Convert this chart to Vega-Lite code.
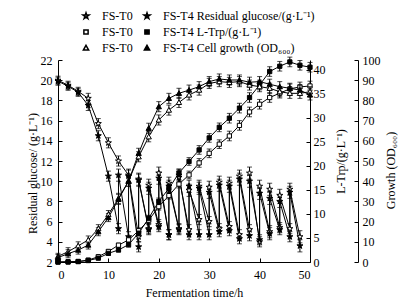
{
  "$schema": "https://vega.github.io/schema/vega-lite/v6.json",
  "width": 252,
  "height": 202,
  "autosize": "none",
  "padding": {"left": 58, "top": 60, "right": 100, "bottom": 44},
  "background": "white",
  "config": {
    "font": "Liberation Serif",
    "view": {"stroke": null},
    "axis": {"grid": false, "domainColor": "black", "tickColor": "black", "labelColor": "black", "titleColor": "black", "labelFontSize": 12, "titleFontSize": 12, "titleFontWeight": "normal", "tickSize": -4, "domainWidth": 1, "tickWidth": 1, "labelFont": "Liberation Serif", "titleFont": "Liberation Serif"},
    "legend": {"orient": "none", "legendX": 14, "legendY": -50, "columns": 2, "direction": "horizontal", "labelFontSize": 12, "labelFont": "Liberation Serif", "labelColor": "black", "symbolSize": 49, "symbolOffset": 8, "labelOffset": 10, "columnPadding": -1, "rowPadding": 4}
  },
  "data": {"values": [
    {"k":"g0","t":0,"v":20.0,"e":0.4,"o":1},{"k":"g0","t":2,"v":19.5,"e":0.4,"o":2},{"k":"g0","t":4,"v":18.9,"e":0.4,"o":3},{"k":"g0","t":6,"v":18.2,"e":0.5,"o":4},{"k":"g0","t":8,"v":15.7,"e":0.5,"o":5},{"k":"g0","t":10,"v":13.8,"e":0.5,"o":6},{"k":"g0","t":12,"v":12.0,"e":0.5,"o":7},{"k":"g0","t":14,"v":10.6,"e":0.6,"o":8},
    {"k":"g0","t":16,"v":4.5,"e":0.5,"o":9},{"k":"g0","t":16,"v":10.2,"e":0.6,"o":10},{"k":"g0","t":18,"v":5.3,"e":0.5,"o":11},{"k":"g0","t":18,"v":9.6,"e":0.6,"o":12},{"k":"g0","t":20,"v":5.7,"e":0.5,"o":13},{"k":"g0","t":20,"v":10.8,"e":0.6,"o":14},{"k":"g0","t":22,"v":4.7,"e":0.5,"o":15},{"k":"g0","t":22,"v":9.8,"e":0.6,"o":16},{"k":"g0","t":24,"v":5.3,"e":0.5,"o":17},{"k":"g0","t":24,"v":10.4,"e":0.6,"o":18},{"k":"g0","t":26,"v":5.2,"e":0.5,"o":19},{"k":"g0","t":26,"v":9.1,"e":0.6,"o":20},{"k":"g0","t":28,"v":6.2,"e":0.5,"o":21},{"k":"g0","t":28,"v":9.5,"e":0.6,"o":22},{"k":"g0","t":30,"v":6.0,"e":0.5,"o":23},{"k":"g0","t":30,"v":9.4,"e":0.6,"o":24},{"k":"g0","t":32,"v":5.3,"e":0.5,"o":25},{"k":"g0","t":32,"v":9.9,"e":0.6,"o":26},{"k":"g0","t":34,"v":5.5,"e":0.5,"o":27},{"k":"g0","t":34,"v":9.8,"e":0.6,"o":28},{"k":"g0","t":36,"v":4.7,"e":0.5,"o":29},{"k":"g0","t":36,"v":10.5,"e":0.6,"o":30},{"k":"g0","t":38,"v":5.2,"e":0.5,"o":31},{"k":"g0","t":38,"v":10.8,"e":0.6,"o":32},{"k":"g0","t":40,"v":4.0,"e":0.5,"o":33},{"k":"g0","t":40,"v":9.5,"e":0.6,"o":34},{"k":"g0","t":42,"v":5.0,"e":0.6,"o":35},{"k":"g0","t":42,"v":9.2,"e":0.6,"o":36},{"k":"g0","t":44,"v":5.4,"e":0.5,"o":37},{"k":"g0","t":44,"v":8.6,"e":0.6,"o":38},{"k":"g0","t":46,"v":5.3,"e":0.5,"o":39},{"k":"g0","t":46,"v":9.2,"e":0.6,"o":40},{"k":"g0","t":48,"v":4.5,"e":0.6,"o":41},
    {"k":"g4","t":0,"v":19.9,"e":0.4,"o":1},{"k":"g4","t":2,"v":19.4,"e":0.4,"o":2},{"k":"g4","t":4,"v":18.8,"e":0.4,"o":3},{"k":"g4","t":6,"v":17.5,"e":0.5,"o":4},{"k":"g4","t":8,"v":14.5,"e":0.5,"o":5},{"k":"g4","t":10,"v":10.5,"e":0.5,"o":6},{"k":"g4","t":12,"v":5.3,"e":0.5,"o":7},{"k":"g4","t":12,"v":10.6,"e":0.6,"o":8},{"k":"g4","t":14,"v":4.5,"e":0.5,"o":9},{"k":"g4","t":14,"v":10.5,"e":0.6,"o":10},{"k":"g4","t":16,"v":3.5,"e":0.5,"o":11},{"k":"g4","t":16,"v":10.1,"e":0.6,"o":12},{"k":"g4","t":18,"v":5.2,"e":0.5,"o":13},{"k":"g4","t":18,"v":9.3,"e":0.6,"o":14},{"k":"g4","t":20,"v":5.5,"e":0.5,"o":15},{"k":"g4","t":20,"v":10.3,"e":0.6,"o":16},{"k":"g4","t":22,"v":4.7,"e":0.5,"o":17},{"k":"g4","t":22,"v":9.5,"e":0.6,"o":18},{"k":"g4","t":24,"v":5.2,"e":0.5,"o":19},{"k":"g4","t":24,"v":10.6,"e":0.6,"o":20},{"k":"g4","t":26,"v":4.7,"e":0.5,"o":21},{"k":"g4","t":26,"v":9.5,"e":0.6,"o":22},{"k":"g4","t":28,"v":4.7,"e":0.5,"o":23},{"k":"g4","t":28,"v":9.3,"e":0.6,"o":24},{"k":"g4","t":30,"v":4.7,"e":0.5,"o":25},{"k":"g4","t":30,"v":8.9,"e":0.6,"o":26},{"k":"g4","t":32,"v":5.0,"e":0.5,"o":27},{"k":"g4","t":32,"v":9.6,"e":0.6,"o":28},{"k":"g4","t":34,"v":5.1,"e":0.5,"o":29},{"k":"g4","t":34,"v":9.5,"e":0.6,"o":30},{"k":"g4","t":36,"v":4.3,"e":0.5,"o":31},{"k":"g4","t":36,"v":10.2,"e":0.6,"o":32},{"k":"g4","t":38,"v":4.6,"e":0.5,"o":33},{"k":"g4","t":38,"v":10.0,"e":0.6,"o":34},{"k":"g4","t":40,"v":4.2,"e":0.5,"o":35},{"k":"g4","t":40,"v":8.8,"e":0.6,"o":36},{"k":"g4","t":42,"v":4.8,"e":0.6,"o":37},{"k":"g4","t":42,"v":8.3,"e":0.6,"o":38},{"k":"g4","t":44,"v":5.2,"e":0.5,"o":39},{"k":"g4","t":44,"v":8.0,"e":0.6,"o":40},{"k":"g4","t":46,"v":4.5,"e":0.5,"o":41},{"k":"g4","t":46,"v":8.9,"e":0.6,"o":42},{"k":"g4","t":48,"v":3.6,"e":0.6,"o":43},
    {"k":"p0","t":0,"v":0,"e":0.1,"o":1},{"k":"p0","t":2,"v":0.05,"e":0.1,"o":2},{"k":"p0","t":4,"v":0.1,"e":0.1,"o":3},{"k":"p0","t":6,"v":0.4,"e":0.2,"o":4},{"k":"p0","t":8,"v":1.1,"e":0.3,"o":5},{"k":"p0","t":10,"v":2.2,"e":0.4,"o":6},{"k":"p0","t":12,"v":3.5,"e":0.4,"o":7},{"k":"p0","t":14,"v":4.6,"e":0.5,"o":8},{"k":"p0","t":16,"v":6.5,"e":0.6,"o":9},{"k":"p0","t":18,"v":8.7,"e":0.6,"o":10},{"k":"p0","t":20,"v":11.5,"e":0.7,"o":11},{"k":"p0","t":22,"v":13.8,"e":0.7,"o":12},{"k":"p0","t":24,"v":16.2,"e":0.8,"o":13},{"k":"p0","t":26,"v":18.1,"e":0.8,"o":14},{"k":"p0","t":28,"v":20.6,"e":0.9,"o":15},{"k":"p0","t":30,"v":22.6,"e":0.9,"o":16},{"k":"p0","t":32,"v":24.5,"e":0.9,"o":17},{"k":"p0","t":34,"v":26.2,"e":1.0,"o":18},{"k":"p0","t":36,"v":28.4,"e":1.0,"o":19},{"k":"p0","t":38,"v":31.2,"e":1.0,"o":20},{"k":"p0","t":40,"v":32.8,"e":1.0,"o":21},{"k":"p0","t":42,"v":34.2,"e":1.0,"o":22},{"k":"p0","t":44,"v":35.1,"e":1.0,"o":23},{"k":"p0","t":46,"v":36.0,"e":1.0,"o":24},{"k":"p0","t":48,"v":36.4,"e":1.0,"o":25},{"k":"p0","t":50,"v":36.6,"e":1.0,"o":26},
    {"k":"p4","t":0,"v":0,"e":0.1,"o":1},{"k":"p4","t":2,"v":0,"e":0.1,"o":2},{"k":"p4","t":4,"v":0.1,"e":0.1,"o":3},{"k":"p4","t":6,"v":0.3,"e":0.2,"o":4},{"k":"p4","t":8,"v":0.8,"e":0.3,"o":5},{"k":"p4","t":10,"v":1.8,"e":0.4,"o":6},{"k":"p4","t":12,"v":2.5,"e":0.4,"o":7},{"k":"p4","t":14,"v":3.6,"e":0.5,"o":8},{"k":"p4","t":16,"v":6.0,"e":0.6,"o":9},{"k":"p4","t":18,"v":9.1,"e":0.6,"o":10},{"k":"p4","t":20,"v":12.6,"e":0.7,"o":11},{"k":"p4","t":22,"v":15.3,"e":0.7,"o":12},{"k":"p4","t":24,"v":18.5,"e":0.8,"o":13},{"k":"p4","t":26,"v":20.9,"e":0.8,"o":14},{"k":"p4","t":28,"v":23.3,"e":0.9,"o":15},{"k":"p4","t":30,"v":25.8,"e":0.9,"o":16},{"k":"p4","t":32,"v":28.0,"e":0.9,"o":17},{"k":"p4","t":34,"v":29.9,"e":1.0,"o":18},{"k":"p4","t":36,"v":32.0,"e":1.0,"o":19},{"k":"p4","t":38,"v":34.2,"e":1.0,"o":20},{"k":"p4","t":40,"v":36.8,"e":1.0,"o":21},{"k":"p4","t":42,"v":39.6,"e":1.0,"o":22},{"k":"p4","t":44,"v":40.7,"e":1.0,"o":23},{"k":"p4","t":46,"v":41.6,"e":1.0,"o":24},{"k":"p4","t":48,"v":40.9,"e":1.0,"o":25},{"k":"p4","t":50,"v":40.5,"e":1.0,"o":26},
    {"k":"c0","t":0,"v":2.8,"e":1.5,"o":1},{"k":"c0","t":2,"v":5.1,"e":2,"o":2},{"k":"c0","t":4,"v":8.0,"e":2,"o":3},{"k":"c0","t":6,"v":10.9,"e":2,"o":4},{"k":"c0","t":8,"v":16.5,"e":2,"o":5},{"k":"c0","t":10,"v":23.5,"e":2,"o":6},{"k":"c0","t":12,"v":31.5,"e":2.5,"o":7},{"k":"c0","t":14,"v":40,"e":2.5,"o":8},{"k":"c0","t":16,"v":52.1,"e":2.5,"o":9},{"k":"c0","t":18,"v":62,"e":2.5,"o":10},{"k":"c0","t":20,"v":70.3,"e":2.5,"o":11},{"k":"c0","t":22,"v":75.2,"e":2.5,"o":12},{"k":"c0","t":24,"v":79,"e":2.5,"o":13},{"k":"c0","t":26,"v":82.7,"e":2.5,"o":14},{"k":"c0","t":28,"v":85.1,"e":2.5,"o":15},{"k":"c0","t":30,"v":88.4,"e":2.5,"o":16},{"k":"c0","t":32,"v":89.3,"e":2.5,"o":17},{"k":"c0","t":34,"v":88.9,"e":2.5,"o":18},{"k":"c0","t":36,"v":89.3,"e":2.5,"o":19},{"k":"c0","t":38,"v":87.6,"e":2.5,"o":20},{"k":"c0","t":40,"v":86.8,"e":2.5,"o":21},{"k":"c0","t":42,"v":86.0,"e":2.5,"o":22},{"k":"c0","t":44,"v":84.3,"e":2.5,"o":23},{"k":"c0","t":46,"v":83.5,"e":2.5,"o":24},{"k":"c0","t":48,"v":83.5,"e":2.5,"o":25},{"k":"c0","t":50,"v":84.3,"e":2.5,"o":26},
    {"k":"c4","t":0,"v":2.2,"e":1.5,"o":1},{"k":"c4","t":2,"v":4.1,"e":2,"o":2},{"k":"c4","t":4,"v":5.9,"e":2,"o":3},{"k":"c4","t":6,"v":8.4,"e":2,"o":4},{"k":"c4","t":8,"v":15,"e":2,"o":5},{"k":"c4","t":10,"v":22,"e":2,"o":6},{"k":"c4","t":12,"v":31,"e":2.5,"o":7},{"k":"c4","t":14,"v":40,"e":2.5,"o":8},{"k":"c4","t":16,"v":53.8,"e":2.5,"o":9},{"k":"c4","t":18,"v":66.2,"e":2.5,"o":10},{"k":"c4","t":20,"v":76.9,"e":2.5,"o":11},{"k":"c4","t":22,"v":81,"e":2.5,"o":12},{"k":"c4","t":24,"v":83.5,"e":2.5,"o":13},{"k":"c4","t":26,"v":85.1,"e":2.5,"o":14},{"k":"c4","t":28,"v":86.8,"e":2.5,"o":15},{"k":"c4","t":30,"v":89.3,"e":2.5,"o":16},{"k":"c4","t":32,"v":90.6,"e":2.5,"o":17},{"k":"c4","t":34,"v":90.1,"e":2.5,"o":18},{"k":"c4","t":36,"v":90.1,"e":2.5,"o":19},{"k":"c4","t":38,"v":89.0,"e":2.5,"o":20},{"k":"c4","t":40,"v":89.3,"e":2.5,"o":21},{"k":"c4","t":42,"v":88.0,"e":2.5,"o":22},{"k":"c4","t":44,"v":86.8,"e":2.5,"o":23},{"k":"c4","t":46,"v":86.0,"e":2.5,"o":24},{"k":"c4","t":48,"v":85.1,"e":2.5,"o":25},{"k":"c4","t":50,"v":82.7,"e":2.5,"o":26}
  ]},
  "encoding": {
    "x": {"field": "t", "type": "quantitative", "scale": {"domain": [0, 50], "nice": false},
      "axis": {"values": [0, 10, 20, 30, 40, 50], "title": "Fermentation time/h", "labelPadding": 11, "titleY": 30, "titleX": 136, "titleBaseline": "middle", "titleAlign": "center"}}
  },
  "layer": [
    {
      "transform": [{"filter": "datum.k == 'g0' || datum.k == 'g4'"}],
      "encoding": {"y": {"field": "v", "type": "quantitative", "scale": {"domain": [2, 22], "nice": false, "zero": false},
        "axis": {"orient": "left", "values": [2,4,6,8,10,12,14,16,18,20,22], "title": "Residual glucose/ (g·L⁻¹)", "labelPadding": 10, "titleX": -26, "titleY": 113, "titleAngle": -90, "titleBaseline": "middle", "titleAlign": "center"}}},
      "layer": [
        {"mark": {"type": "errorbar", "ticks": {"size": 5, "color": "black"}, "color": "black", "thickness": 1}, "encoding": {"yError": {"field": "e"}}},
        {"mark": {"type": "line", "color": "black", "strokeWidth": 1}, "encoding": {"detail": {"field": "k"}, "order": {"field": "o"}}},
        {"mark": {"type": "point", "stroke": "black", "strokeWidth": 1, "opacity": 1},
          "encoding": {
            "shape": {"field": "k", "type": "nominal", "title": null, "scale": {"domain": ["g0","g4","p0","p4","c0","c4"], "range": ["M0,-1L0.2245,-0.309L0.951,-0.309L0.363,0.118L0.588,0.809L0,0.382L-0.588,0.809L-0.363,0.118L-0.951,-0.309L-0.2245,-0.309Z","M0,-1L0.2245,-0.309L0.951,-0.309L0.363,0.118L0.588,0.809L0,0.382L-0.588,0.809L-0.363,0.118L-0.951,-0.309L-0.2245,-0.309Z","M-1,-1L1,-1L1,1L-1,1Z","M-1,-1L1,-1L1,1L-1,1Z","M0,-1L1,0.8L-1,0.8Z","M0,-1L1,0.8L-1,0.8Z"]},
              "legend": {
                "labelExpr": "datum.value == 'g4' ? 'FS-T4 Residual glucose/(g·L⁻¹)' : datum.value == 'p4' ? 'FS-T4 L-Trp/(g·L⁻¹)' : datum.value == 'c4' ? 'FS-T4 Cell growth (OD₆₀₀)' : 'FS-T0'"}},
            "fill": {"field": "k", "type": "nominal", "title": null, "scale": {"domain": ["g0","g4","p0","p4","c0","c4"], "range": ["white","black","white","black","white","black"]}},
            "size": {"field": "k", "type": "nominal", "title": null, "scale": {"type": "ordinal", "domain": ["g0","g4","p0","p4","c0","c4"], "range": [40,40,18,18,28,28]}}
          }}
      ]
    },
    {
      "transform": [{"filter": "datum.k == 'p0' || datum.k == 'p4'"}],
      "encoding": {"y": {"field": "v", "type": "quantitative", "scale": {"domain": [0, 42], "nice": false, "zero": false},
        "axis": {"orient": "right", "values": [0,5,10,15,20,25,30,35,40], "title": "L-Trp/(g·L⁻¹)", "labelPadding": 7, "titleX": 30, "titleY": 101, "titleAngle": -90, "titleBaseline": "middle", "titleAlign": "center"}}},
      "layer": [
        {"mark": {"type": "errorbar", "ticks": {"size": 5, "color": "black"}, "color": "black", "thickness": 1}, "encoding": {"yError": {"field": "e"}}},
        {"mark": {"type": "line", "color": "black", "strokeWidth": 1}, "encoding": {"detail": {"field": "k"}, "order": {"field": "o"}}},
        {"mark": {"type": "point", "stroke": "black", "strokeWidth": 1, "opacity": 1},
          "encoding": {
            "shape": {"field": "k", "type": "nominal", "title": null},
            "fill": {"field": "k", "type": "nominal", "title": null},
            "size": {"field": "k", "type": "nominal", "title": null, "scale": {"type": "ordinal"}}
          }}
      ]
    },
    {
      "transform": [{"filter": "datum.k == 'c0' || datum.k == 'c4'"}],
      "encoding": {"y": {"field": "v", "type": "quantitative", "scale": {"domain": [0, 100], "nice": false, "zero": false},
        "axis": {"orient": "right", "offset": 48, "values": [0,10,20,30,40,50,60,70,80,90,100], "title": "Growth (OD₆₀₀)", "labelPadding": 8, "titleX": 32, "titleY": 110, "titleAngle": -90, "titleBaseline": "middle", "titleAlign": "center"}}},
      "layer": [
        {"mark": {"type": "errorbar", "ticks": {"size": 5, "color": "black"}, "color": "black", "thickness": 1}, "encoding": {"yError": {"field": "e"}}},
        {"mark": {"type": "line", "color": "black", "strokeWidth": 1}, "encoding": {"detail": {"field": "k"}, "order": {"field": "o"}}},
        {"mark": {"type": "point", "stroke": "black", "strokeWidth": 1, "opacity": 1},
          "encoding": {
            "shape": {"field": "k", "type": "nominal", "title": null},
            "fill": {"field": "k", "type": "nominal", "title": null},
            "size": {"field": "k", "type": "nominal", "title": null, "scale": {"type": "ordinal"}}
          }}
      ]
    }
  ],
  "resolve": {"scale": {"y": "independent"}}
}
